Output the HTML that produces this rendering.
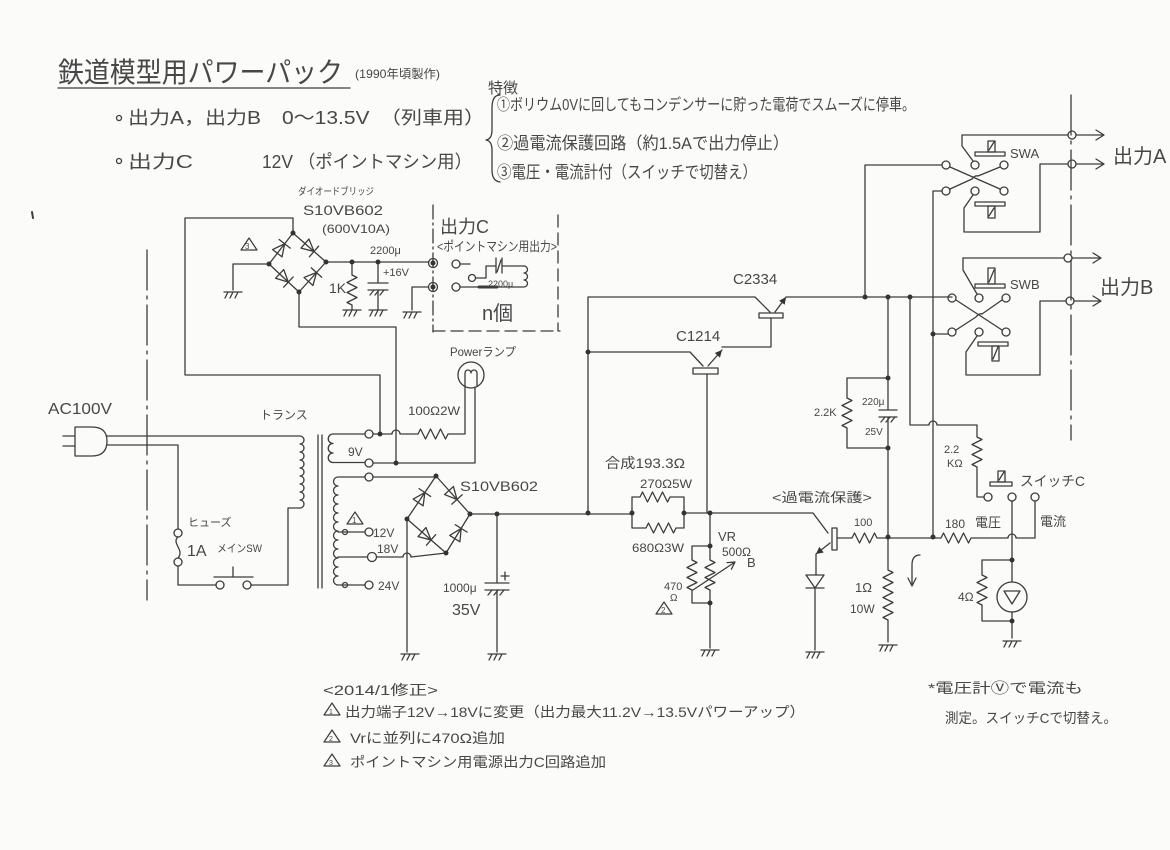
<!DOCTYPE html>
<html><head><meta charset="utf-8">
<style>
html,body{margin:0;padding:0;background:#fbfbfa;}
svg{display:block}
text{font-family:"Liberation Sans","Noto Sans CJK JP",sans-serif;fill:#474747;}
</style></head><body>
<svg width="1170" height="850" viewBox="0 0 1170 850" xmlns="http://www.w3.org/2000/svg">
<defs>
<g id="gnd" stroke="#3c3c3c" stroke-width="1.3" fill="none"><path d="M-9 0H9M-5 0L-8 6M0 0L-3 6M5 0L2 6"/></g>
<g id="dio" stroke="#3c3c3c" stroke-width="1.3" fill="none"><path d="M-6 -6L-6 6L6 0Z M6 -7V7"/></g>
<g id="tri" stroke="#3c3c3c" stroke-width="1.2" fill="none"><path d="M-8 5L0 -7L8 5Z"/></g>
</defs>

<g stroke="#3c3c3c" stroke-width="1.3" fill="none" stroke-linecap="round" stroke-linejoin="round">
<path d="M58 88H350"/>
<path d="M500 95Q492 95 492 108V130Q492 139 486 140Q492 141 492 150V170Q492 181 500 182"/>
<path d="M32 212L33 218" stroke-width="2"/>
<circle cx="119" cy="118" r="2.5"/>
<circle cx="119" cy="161" r="2.5"/>

<path d="M147 250V600" stroke-dasharray="40 6 3 6"/>
<path d="M1071 95V440" stroke-dasharray="40 6 3 6"/>

<path d="M75 427H92Q107 427 107 441Q107 456 92 456H75Z"/>
<path d="M63 436H75M63 446H75"/>
<path d="M107 436H300"/>
<path d="M107 445H178V529"/>
<circle cx="178" cy="533" r="4"/>
<path d="M178 537C171 543 185 550 178 558"/>
<circle cx="178" cy="562" r="4"/>
<path d="M178 566V585H216"/>
<circle cx="220" cy="585" r="4"/>
<circle cx="247" cy="585" r="4"/>
<path d="M214 577H253M233 577V567"/>
<path d="M251 585H288V508H300"/>

<path d="M300 436a4 4 0 1 1 0 8a4 4 0 1 1 0 8a4 4 0 1 1 0 8a4 4 0 1 1 0 8a4 4 0 1 1 0 8a4 4 0 1 1 0 8a4 4 0 1 1 0 8a4 4 0 1 1 0 8a4 4 0 1 1 0 8"/>
<path d="M318 435V588M322 435V588"/>
<path d="M365 434H333a4.5 4.5 0 1 0 0 9.5a4.5 4.5 0 1 0 0 9.5a4.5 4.5 0 1 0 0 9.5H365"/>
<circle cx="369" cy="434" r="4" fill="#fbfbfa"/>
<circle cx="369" cy="463" r="4" fill="#fbfbfa"/>
<path d="M365 477H338a4.5 4.5 0 1 0 0 9a4.5 4.5 0 1 0 0 9a4.5 4.5 0 1 0 0 9a4.5 4.5 0 1 0 0 9a4.5 4.5 0 1 0 0 9a4.5 4.5 0 1 0 0 9a4.5 4.5 0 1 0 0 9a4.5 4.5 0 1 0 0 9a4.5 4.5 0 1 0 0 9a4.5 4.5 0 1 0 0 9a4.5 4.5 0 1 0 0 9a4.5 4.5 0 1 0 0 9H365"/>
<path d="M338 532H365M338 557H368"/>
<circle cx="345" cy="532" r="2.5"/>
<circle cx="345" cy="585" r="2.5"/>
<circle cx="369" cy="477" r="4" fill="#fbfbfa"/>
<circle cx="369" cy="532" r="4" fill="#fbfbfa"/>
<circle cx="372" cy="557" r="4.5" fill="#fbfbfa"/>
<circle cx="369" cy="585" r="4" fill="#fbfbfa"/>

<path d="M373 434H392a4 4 0 0 1 8 0H418l2.5 -5l5 10l5 -10l5 10l5 -10l5 10l2.5 -5H465V386"/>
<path d="M373 463H475V387"/>
<path d="M380 434V375H185V218H293V233"/>
<path d="M299 292V327H396V463"/>
<circle cx="471" cy="375" r="13"/>
<path d="M465 386V373a3 3 0 0 1 6 0a3 3 0 0 1 6 0V386"/>

<path d="M293 233L326 262L299 292L269 264Z"/>
<use href="#dio" transform="translate(281 248.5) rotate(-52)"/>
<use href="#dio" transform="translate(309.5 247.5) rotate(41)"/>
<use href="#dio" transform="translate(284 278) rotate(43)"/>
<use href="#dio" transform="translate(312.5 277) rotate(-48)"/>
<path d="M269 264H233V290"/>
<use href="#gnd" transform="translate(233 292)"/>
<path d="M326 262H429"/>
<path d="M352 262V275l5 2.5l-10 5l10 5l-10 5l10 5l-10 5l5 2.5V310"/>
<use href="#gnd" transform="translate(352 310)"/>
<path d="M378 262V283M368 283H388M368 290H388M378 290V310"/>
<path d="M370 295l4 -5M375 295l4 -5M380 295l4 -5"/>
<use href="#gnd" transform="translate(378 310)"/>
<circle cx="433" cy="263" r="4.5"/>
<circle cx="456" cy="264" r="4"/>
<circle cx="472" cy="278" r="3.5"/>
<circle cx="433" cy="287" r="4.5"/>
<circle cx="456" cy="287" r="4"/>
<path d="M460 264H470M476 278H486V266H496M496 258V273M502 258V273M502 266H524"/>
<path d="M497 272l4 -12"/>
<path d="M524 266a3.5 3.5 0 1 1 0 7a3.5 3.5 0 1 1 0 7a3.5 3.5 0 1 1 0 7H460"/>
<path d="M479 287H497" stroke-width="3"/>
<path d="M428 287H412V310"/>
<use href="#gnd" transform="translate(412 312)"/>
<path d="M433 205V332" stroke-dasharray="14 4 2 4"/>
<path d="M433 331H560" stroke-dasharray="12 6"/>
<path d="M558 215V331" stroke-dasharray="12 6"/>

<path d="M373 477H436"/>
<path d="M436 476L470 514L446 553L407 519Z"/>
<use href="#dio" transform="translate(421.5 497.5) rotate(-56)"/>
<use href="#dio" transform="translate(453 495) rotate(48)"/>
<use href="#dio" transform="translate(426.5 536) rotate(41)"/>
<use href="#dio" transform="translate(458 533.5) rotate(-58)"/>
<path d="M377 557H403a4 4 0 0 1 8 0L446 553"/>
<path d="M407 519V652"/>
<use href="#gnd" transform="translate(410 654)"/>
<path d="M470 514H632"/>
<path d="M497 514V583M485 583H509M485 590H509M497 590V652"/>
<path d="M488 595l4 -5M494 595l4 -5M500 595l4 -5"/>
<path d="M505 572V580M501 576H509"/>
<use href="#gnd" transform="translate(497 654)"/>

<path d="M632 513V497H640l2.5 -5l5 10l5 -10l5 10l5 -10l5 10l2.5 -5H684V528H676l-2.5 5l-5 -10l-5 10l-5 -10l-5 10l-5 -10l-2.5 5H632V513"/>
<path d="M684 513H813L828 533"/>
<path d="M710 513V560l5 2.5l-10 5l10 5l-10 5l10 5l-10 5l5 2.5V648"/>
<use href="#gnd" transform="translate(710 650)"/>
<path d="M710 546H692V560l5 2.5l-10 5l10 5l-10 5l10 5l-10 5l5 2.5V603H710"/>
<path d="M693 590L735 562M731.4 569.2L735 562L727 562.6"/>

<path d="M588 513V297H755L770 312"/>
<rect x="759" y="313" width="24" height="5"/>
<path d="M775 312L786 297H952"/>
<path d="M771 318V347H722"/>
<path d="M588 352H690L703 366"/>
<rect x="693" y="368" width="25" height="6"/>
<path d="M708 366L722 350"/>
<path d="M707 374V513"/>

<rect x="832" y="528" width="5" height="22"/>
<path d="M830 543L816 554V575"/>
<path d="M806 575H824L815 588ZM806 588H824M815 588V650"/>
<use href="#gnd" transform="translate(815 652)"/>
<path d="M837 538H852l2.5 -5l5 10l5 -10l5 10l5 -10l2.5 5H941l2.5 -5l5 10l5 -10l5 10l5 -10l5 10l2.5 -5H1008a4 4 0 0 1 8 0H1035V501"/>

<path d="M888 297V410M879 410H897M879 417H897M888 417V570l5 2.5l-10 5l10 5l-10 5l10 5l-10 5l10 5l-10 5l10 5l-10 5l5 2.5V642"/>
<path d="M881 422l4 -5M886 422l4 -5M891 422l4 -5"/>
<use href="#gnd" transform="translate(888 645)"/>
<path d="M888 378H847V398l5 2.5l-10 5l10 5l-10 5l10 5l-10 5l5 2.5V448H888"/>
<path d="M920 555Q912 555 912 565V585M908 578L912 586L916 578"/>

<path d="M865 297V165H942"/>
<path d="M910 297V425H929a4 4 0 0 1 8 0H977V437l5 2.5l-10 5l10 5l-10 5l10 5l-10 5l5 2.5V497H984"/>
<path d="M942 191H933V537M933 334H948"/>

<path d="M962 135H1068M1076 135H1103M1096 130L1104 135L1096 140"/>
<circle cx="1072" cy="135" r="4"/>
<path d="M962 135V146L973 161"/>
<circle cx="946" cy="165" r="4"/><circle cx="975" cy="165" r="4"/><circle cx="1004" cy="165" r="4"/>
<circle cx="946" cy="191" r="4"/><circle cx="975" cy="191" r="4"/><circle cx="1004" cy="191" r="4"/>
<path d="M950 167L1000 189M950 189L972 179Q975 175 978 176L1000 167"/>
<path d="M973 195L964 208V232H1040V164H1068M1076 164H1103M1096 159L1104 164L1096 169"/>
<circle cx="1072" cy="164" r="4"/>
<rect x="975" y="152" width="30" height="4"/>
<rect x="988" y="141" width="7" height="11"/>
<path d="M989 150l5 -8"/>
<rect x="975" y="202" width="30" height="4"/>
<rect x="988" y="206" width="7" height="12"/>
<path d="M989 216l5 -8"/>

<path d="M963 258H1064M1072 258H1100M1093 253L1101 258L1093 263"/>
<circle cx="1068" cy="258" r="4"/>
<path d="M963 258V270L977 294"/>
<circle cx="952" cy="298" r="4"/><circle cx="979" cy="298" r="4"/><circle cx="1006" cy="298" r="4"/>
<circle cx="952" cy="332" r="4"/><circle cx="979" cy="332" r="4"/><circle cx="1006" cy="332" r="4"/>
<path d="M956 300L1002 330M956 330L976 317Q979 313 982 314L1002 300"/>
<path d="M977 336L966 352V375H1040V301H1066M1074 301H1100M1093 296L1101 301L1093 306"/>
<circle cx="1070" cy="301" r="4"/>
<rect x="975" y="284" width="30" height="4"/>
<rect x="988" y="268" width="7" height="16"/>
<path d="M989 282l5 -12"/>
<rect x="978" y="342" width="30" height="4"/>
<rect x="992" y="346" width="7" height="15"/>
<path d="M993 359l5 -12"/>

<circle cx="988" cy="497" r="4"/><circle cx="1012" cy="497" r="4"/><circle cx="1035" cy="497" r="4"/>
<rect x="990" y="482" width="22" height="4"/>
<rect x="998" y="471" width="7" height="11"/>
<path d="M999 480l5 -8"/>
<path d="M1012 501V582"/>
<circle cx="1012" cy="597" r="15"/>
<path d="M1004 591H1020L1012 604Z"/>
<path d="M1012 612V638"/>
<use href="#gnd" transform="translate(1012 641)"/>
<path d="M1012 560H982V575l5 2.5l-10 5l10 5l-10 5l10 5l-10 5l5 2.5V621H1012"/>

<use href="#tri" transform="translate(249 245)"/>
<use href="#tri" transform="translate(355 519)"/>
<use href="#tri" transform="translate(664 609)"/>
<use href="#tri" transform="translate(332 710)"/>
<use href="#tri" transform="translate(332 737)"/>
<use href="#tri" transform="translate(332 761)"/>
</g>

<g fill="#333">
<circle cx="269" cy="264" r="2.5"/><circle cx="293" cy="233" r="2.5"/><circle cx="326" cy="262" r="2.5"/><circle cx="299" cy="292" r="2.5"/>
<circle cx="352" cy="262" r="2.5"/><circle cx="378" cy="262" r="2.5"/><circle cx="433" cy="263" r="2.5"/><circle cx="433" cy="287" r="2.5"/>
<circle cx="380" cy="434" r="2.5"/><circle cx="396" cy="463" r="2.5"/>
<circle cx="436" cy="476" r="2.5"/><circle cx="470" cy="514" r="2.5"/><circle cx="446" cy="553" r="2.5"/><circle cx="407" cy="519" r="2.5"/>
<circle cx="497" cy="514" r="2.5"/><circle cx="588" cy="513" r="2.5"/><circle cx="588" cy="352" r="2.5"/>
<circle cx="632" cy="513" r="2.5"/><circle cx="684" cy="513" r="2.5"/><circle cx="710" cy="513" r="2.5"/>
<circle cx="710" cy="546" r="2.5"/><circle cx="710" cy="603" r="2.5"/>
<circle cx="865" cy="297" r="2.5"/><circle cx="888" cy="297" r="2.5"/><circle cx="910" cy="297" r="2.5"/>
<circle cx="888" cy="378" r="2.5"/><circle cx="888" cy="448" r="2.5"/><circle cx="888" cy="537" r="2.5"/>
<circle cx="933" cy="537" r="2.5"/><circle cx="933" cy="334" r="2.5"/>
<circle cx="1012" cy="560" r="2.5"/><circle cx="1012" cy="621" r="2.5"/>
<polygon points="786,297 784.7,304.7 779.1,300.7"/>
<polygon points="722,350 720,357.6 714.8,353"/>
<polygon points="816,554 823.7,552.5 819.3,546.9"/>
</g>

<text x="58" y="82" font-size="28" textLength="285" lengthAdjust="spacingAndGlyphs">鉄道模型用パワーパック</text>
<text x="355" y="78" font-size="12" textLength="85" lengthAdjust="spacingAndGlyphs">(1990年頃製作)</text>
<text x="488" y="93" font-size="15">特徴</text>
<text x="128" y="124" font-size="18" textLength="357" lengthAdjust="spacingAndGlyphs">出力A，出力B　0～13.5V　（列車用）</text>
<text x="128" y="168" font-size="18" textLength="65" lengthAdjust="spacingAndGlyphs">出力C</text>
<text x="262" y="168" font-size="18" textLength="210" lengthAdjust="spacingAndGlyphs">12V （ポイントマシン用）</text>
<text x="497" y="110" font-size="16" textLength="418" lengthAdjust="spacingAndGlyphs">①ボリウム0Vに回してもコンデンサーに貯った電荷でスムーズに停車。</text>
<text x="497" y="149" font-size="17" textLength="292" lengthAdjust="spacingAndGlyphs">②過電流保護回路（約1.5Aで出力停止）</text>
<text x="497" y="178" font-size="17" textLength="260" lengthAdjust="spacingAndGlyphs">③電圧・電流計付（スイッチで切替え）</text>

<text x="298" y="195" font-size="10" textLength="76" lengthAdjust="spacingAndGlyphs">ダイオードブリッジ</text>
<text x="303" y="215" font-size="14" textLength="80" lengthAdjust="spacingAndGlyphs">S10VB602</text>
<text x="322" y="233" font-size="12" textLength="68" lengthAdjust="spacingAndGlyphs">(600V10A)</text>
<text x="245" y="249" font-size="8">3</text>
<text x="370" y="254" font-size="11">2200μ</text>
<text x="383" y="276" font-size="11">+16V</text>
<text x="329" y="293" font-size="14">1K</text>
<text x="440" y="233" font-size="18">出力C</text>
<text x="437" y="251" font-size="13" textLength="120" lengthAdjust="spacingAndGlyphs">&lt;ポイントマシン用出力&gt;</text>
<text x="488" y="287" font-size="9">2200μ</text>
<text x="482" y="320" font-size="20">n個</text>

<text x="450" y="356" font-size="12" textLength="66" lengthAdjust="spacingAndGlyphs">Powerランプ</text>
<text x="260" y="419" font-size="12">トランス</text>
<text x="408" y="415" font-size="12" textLength="52" lengthAdjust="spacingAndGlyphs">100Ω2W</text>
<text x="348" y="456" font-size="12">9V</text>
<text x="460" y="491" font-size="14" textLength="78" lengthAdjust="spacingAndGlyphs">S10VB602</text>
<text x="352" y="523" font-size="8">1</text>
<text x="373" y="537" font-size="12">12V</text>
<text x="377" y="553" font-size="12">18V</text>
<text x="378" y="590" font-size="12">24V</text>
<text x="443" y="592" font-size="12">1000μ</text>
<text x="452" y="615" font-size="16">35V</text>
<text x="48" y="414" font-size="16" textLength="64" lengthAdjust="spacingAndGlyphs">AC100V</text>
<text x="188" y="526" font-size="11">ヒューズ</text>
<text x="187" y="556" font-size="16">1A</text>
<text x="217" y="552" font-size="11" textLength="45" lengthAdjust="spacingAndGlyphs">メインSW</text>

<text x="733" y="284" font-size="15">C2334</text>
<text x="676" y="341" font-size="15">C1214</text>
<text x="605" y="468" font-size="14" textLength="80" lengthAdjust="spacingAndGlyphs">合成193.3Ω</text>
<text x="640" y="488" font-size="12" textLength="52" lengthAdjust="spacingAndGlyphs">270Ω5W</text>
<text x="632" y="552" font-size="12" textLength="52" lengthAdjust="spacingAndGlyphs">680Ω3W</text>
<text x="718" y="541" font-size="13">VR</text>
<text x="722" y="556" font-size="12">500Ω</text>
<text x="747" y="567" font-size="13">B</text>
<text x="664" y="590" font-size="11">470</text>
<text x="670" y="601" font-size="10">Ω</text>
<text x="661" y="613" font-size="8">2</text>
<text x="772" y="502" font-size="13" textLength="100" lengthAdjust="spacingAndGlyphs">&lt;過電流保護&gt;</text>
<text x="854" y="526" font-size="11">100</text>
<text x="862" y="405" font-size="10">220μ</text>
<text x="865" y="435" font-size="10">25V</text>
<text x="814" y="416" font-size="11">2.2K</text>
<text x="855" y="592" font-size="13">1Ω</text>
<text x="850" y="613" font-size="12">10W</text>
<text x="944" y="453" font-size="11">2.2</text>
<text x="947" y="467" font-size="11">KΩ</text>
<text x="945" y="528" font-size="12">180</text>
<text x="975" y="527" font-size="13">電圧</text>
<text x="1040" y="526" font-size="13">電流</text>
<text x="1020" y="486" font-size="14" textLength="65" lengthAdjust="spacingAndGlyphs">スイッチC</text>
<text x="958" y="601" font-size="12">4Ω</text>
<text x="1010" y="158" font-size="13">SWA</text>
<text x="1113" y="163" font-size="20">出力A</text>
<text x="1010" y="289" font-size="13">SWB</text>
<text x="1100" y="294" font-size="20">出力B</text>

<text x="928" y="693" font-size="14" textLength="155" lengthAdjust="spacingAndGlyphs">*電圧計Ⓥで電流も</text>
<text x="945" y="723" font-size="14" textLength="172" lengthAdjust="spacingAndGlyphs">測定。スイッチCで切替え。</text>

<text x="323" y="695" font-size="14" textLength="115" lengthAdjust="spacingAndGlyphs">&lt;2014/1修正&gt;</text>
<text x="329" y="714" font-size="7">1</text>
<text x="345" y="717" font-size="14" textLength="460" lengthAdjust="spacingAndGlyphs">出力端子12V→18Vに変更（出力最大11.2V→13.5Vパワーアップ）</text>
<text x="329" y="741" font-size="7">2</text>
<text x="350" y="743" font-size="14" textLength="155" lengthAdjust="spacingAndGlyphs">Vrに並列に470Ω追加</text>
<text x="329" y="765" font-size="7">3</text>
<text x="350" y="767" font-size="14" textLength="256" lengthAdjust="spacingAndGlyphs">ポイントマシン用電源出力C回路追加</text>
</svg>
</body></html>
